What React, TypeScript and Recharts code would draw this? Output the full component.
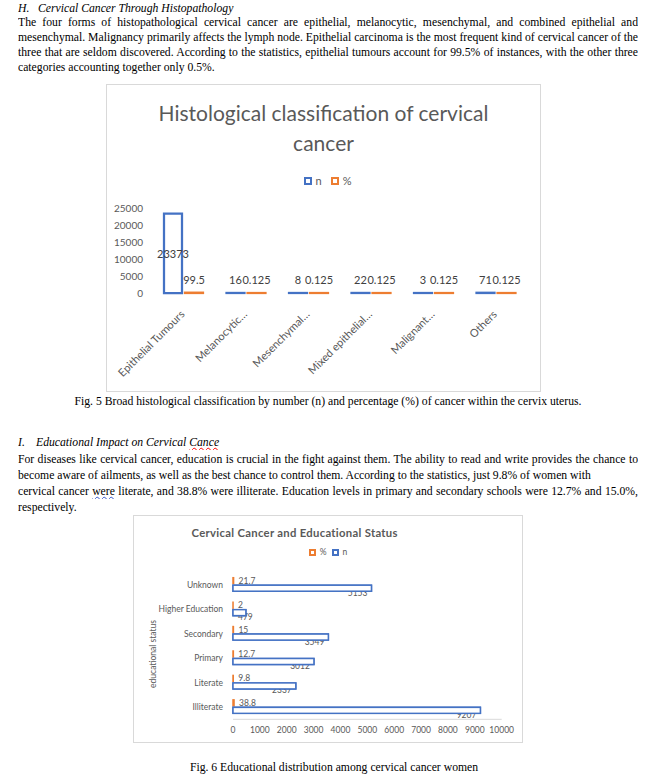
import React from 'react';
import { BarChart, Bar, XAxis, YAxis, LabelList, Legend } from 'recharts';

// ---------- Data ----------
const histCategories = ['Epithelial Tumours', 'Melanocytic…', 'Mesenchymal…', 'Mixed epithelial…', 'Malignant…', 'Others'];
const histN = [23373, 16, 8, 22, 3, 71];
const histPct = [99.5, 0.125, 0.125, 0.125, 0.125, 0.125];
const histTicks = [0, 5000, 10000, 15000, 20000, 25000];

const eduCategories = ['Unknown', 'Higher Education', 'Secondary', 'Primary', 'Literate', 'Illiterate'];
const eduPct = [21.7, 2, 15, 12.7, 9.8, 38.8];
const eduN = [5153, 479, 3549, 3012, 2337, 9207];
const eduTicks = [0, 1000, 2000, 3000, 4000, 5000, 6000, 7000, 8000, 9000, 10000];

const histData = histCategories.map((name, i) => ({ name, n: histN[i], pct: histPct[i] }));
const eduData = eduCategories.map((name, i) => ({ name, pct: eduPct[i], n: eduN[i] }));

const BLUE = '#4472C4';
const ORANGE = '#ED7D31';
const GREY = '#595959';
const SANS = 'Lato, "Open Sans", sans-serif';
const SERIF = '"Liberation Serif", "Times New Roman", serif';
const SERIES_COLOR: Record<string, string> = { n: BLUE, pct: ORANGE };

// ---------- Page text helpers ----------
const lineStyle = (top: number, align: 'justify' | 'left' | 'center'): React.CSSProperties => ({
  position: 'absolute',
  left: 18,
  top: top - 7.5,
  width: 620,
  height: 15,
  lineHeight: '15px',
  fontFamily: SERIF,
  fontSize: 11.7,
  color: '#000',
  whiteSpace: align === 'justify' ? 'normal' : 'nowrap',
  overflow: 'hidden',
  textAlign: align,
  textAlignLast: align,
});

const Line = ({ top, align = 'justify', children }: { top: number; align?: 'justify' | 'left' | 'center'; children: React.ReactNode }) => (
  <div style={lineStyle(top, align)}>{children}</div>
);

// ---------- Chart 1 pieces ----------
const HistTick = (props: any) => {
  const { x, y, payload } = props;
  const px = x + 2;
  const py = y + 14;
  return (
    <text x={px} y={py} textAnchor="end" transform={`rotate(-45, ${px}, ${py})`} fontSize={11} fill={GREY} fontFamily={SANS}>
      {payload.value}
    </text>
  );
};

const HistLabel = (props: any) => {
  const { x, y, width, height, value } = props;
  const cx = x + width / 2;
  if (height > 30) {
    return (
      <text x={cx} y={y + height / 2} textAnchor="middle" dominantBaseline="central" fontSize={11} fill="#404040" fontFamily={SANS}>
        {value}
      </text>
    );
  }
  return (
    <text x={cx} y={y - 9} textAnchor="middle" fontSize={11} fill="#404040" fontFamily={SANS}>
      {value}
    </text>
  );
};

const HollowLegend = ({ payload, order, size, font, gap }: any) => {
  const items = order.map((k: string) => (payload || []).find((p: any) => p.dataKey === k)).filter(Boolean);
  return (
    <div style={{ display: 'flex', justifyContent: 'center', alignItems: 'center', fontFamily: SANS, fontSize: font, color: GREY }}>
      {items.map((p: any, i: number) => (
        <div key={i} style={{ display: 'flex', alignItems: 'center', marginLeft: i === 0 ? 0 : gap }}>
          <span
            style={{
              display: 'inline-block',
              width: size,
              height: size,
              border: `2px solid ${SERIES_COLOR[p.dataKey]}`,
              background: '#fff',
              marginRight: 4,
            }}
          />
          <span>{p.value}</span>
        </div>
      ))}
    </div>
  );
};

// ---------- Chart 2 pieces ----------
const EduYTick = (props: any) => {
  const { x, y, payload } = props;
  return (
    <text x={x} y={y} textAnchor="end" dominantBaseline="central" fontSize={8.5} fill={GREY} fontFamily={SANS}>
      {payload.value}
    </text>
  );
};

const EduNLabel = (props: any) => {
  const { x, y, width, height, value } = props;
  const fs = 8.5;
  const textW = String(value).length * fs * 0.58;
  const endX = Math.max(x + width - 4, x + textW + 5);
  const cy = y + height + 1.5;
  return (
    <g>
      <text x={endX} y={cy} textAnchor="end" dominantBaseline="central" fontSize={fs} fill={GREY} fontFamily={SANS}>
        {value}
      </text>
      <rect x={x} y={y} width={width} height={height} fill="#fff" stroke={BLUE} strokeWidth={1.5} />
    </g>
  );
};

export default function App() {
  return (
    <div style={{ position: 'absolute', left: 0, top: 0, width: 658, height: 777, background: '#fff' }}>
      {/* Section H */}
      <div style={{ ...lineStyle(8, 'left'), fontStyle: 'italic' }}>
        <span style={{ display: 'inline-block', width: 20 }}>H.</span>Cervical Cancer Through Histopathology
      </div>
      <Line top={22}>The four forms of histopathological cervical cancer are epithelial, melanocytic, mesenchymal, and combined epithelial and</Line>
      <Line top={37}>mesenchymal. Malignancy primarily affects the lymph node. Epithelial carcinoma is the most frequent kind of cervical cancer of the</Line>
      <Line top={52}>three that are seldom discovered. According to the statistics, epithelial tumours account for 99.5% of instances, with the other three</Line>
      <Line top={67} align="left">categories accounting together only 0.5%.</Line>

      {/* Chart 1 */}
      <div style={{ position: 'absolute', left: 106, top: 84, width: 435, height: 308, border: '1px solid #d9d9d9', boxSizing: 'border-box', background: '#fff' }}>
        <div style={{ position: 'absolute', left: -1, top: -1, width: 435, height: 308 }}>
          <div
            style={{
              position: 'absolute',
              left: 0,
              top: 14,
              width: 435,
              textAlign: 'center',
              fontFamily: SANS,
              fontSize: 21,
              lineHeight: '30px',
              color: GREY,
            }}
          >
            Histological classification of cervical
            <br />
            cancer
          </div>
          <BarChart width={435} height={308} data={histData} margin={{ top: 124, right: 14, bottom: 69, left: 0 }} barGap={3}>
            <XAxis dataKey="name" axisLine={false} tickLine={false} interval={0} tick={<HistTick />} height={30} />
            <YAxis
              type="number"
              domain={[0, 25000]}
              ticks={histTicks}
              interval={0}
              axisLine={false}
              tickLine={false}
              width={46}
              tickMargin={3}
              tick={{ fontSize: 10, fill: GREY, fontFamily: SANS }}
            />
            <Legend
              verticalAlign="middle"
              align="center"
              layout="horizontal"
              wrapperStyle={{ top: 90, left: 4, width: 435 }}
              content={(p: any) => <HollowLegend payload={p.payload} order={['n', 'pct']} size={4} font={11} gap={9} />}
            />
            <Bar dataKey="n" name="n" fill="#fff" stroke={BLUE} strokeWidth={2.25} barSize={18} isAnimationActive={false}>
              <LabelList dataKey="n" content={<HistLabel />} />
            </Bar>
            <Bar dataKey="pct" name="%" fill="#fff" stroke={ORANGE} strokeWidth={2.25} barSize={18} isAnimationActive={false}>
              <LabelList dataKey="pct" content={<HistLabel />} />
            </Bar>
          </BarChart>
        </div>
      </div>

      <Line top={401} align="center">
        Fig. 5 Broad histological classification by number (n) and percentage (%) of cancer within the cervix uterus.
      </Line>

      {/* Section I */}
      <div style={{ ...lineStyle(442, 'left'), fontStyle: 'italic' }}>
        <span style={{ display: 'inline-block', width: 18 }}>I.</span>Educational Impact on Cervical{' '}
        <span style={{ textDecoration: 'underline wavy red', textDecorationThickness: 1 }}>Cance</span>
      </div>
      <Line top={459}>For diseases like cervical cancer, education is crucial in the fight against them. The ability to read and write provides the chance to</Line>
      <Line top={475} align="left">become aware of ailments, as well as the best chance to control them. According to the statistics, just 9.8% of women with</Line>
      <Line top={491}>
        cervical cancer <span style={{ textDecoration: 'underline wavy #3355cc', textDecorationThickness: 1 }}>were</span> literate, and 38.8% were illiterate. Education levels in primary and secondary schools were 12.7% and 15.0%,
      </Line>
      <Line top={507} align="left">respectively.</Line>

      {/* Chart 2 */}
      <div style={{ position: 'absolute', left: 133, top: 515, width: 390, height: 228, border: '1px solid #d9d9d9', boxSizing: 'border-box', background: '#fff' }}>
        <div style={{ position: 'absolute', left: -1, top: -1, width: 390, height: 228 }}>
          <div
            style={{
              position: 'absolute',
              left: 161.7 - 150,
              top: 10,
              width: 300,
              textAlign: 'center',
              fontFamily: SANS,
              fontWeight: 700,
              fontSize: 11.3,
              letterSpacing: 0.3,
              lineHeight: '16px',
              color: GREY,
            }}
          >
            Cervical Cancer and Educational Status
          </div>
          <div
            style={{
              position: 'absolute',
              left: 20 - 50,
              top: 139 - 6,
              width: 100,
              height: 12,
              lineHeight: '12px',
              textAlign: 'center',
              fontFamily: SANS,
              fontSize: 8.5,
              color: GREY,
              transform: 'rotate(-90deg)',
              transformOrigin: '50% 50%',
            }}
          >
            educational status
          </div>
          <BarChart
            width={390}
            height={228}
            data={eduData}
            layout="vertical"
            margin={{ top: 57.7, right: 21.3, bottom: 3.7, left: 0 }}
            barGap={1.5}
          >
            <XAxis
              type="number"
              domain={[0, 10000]}
              ticks={eduTicks}
              interval={0}
              axisLine={{ stroke: '#d9d9d9' }}
              tickLine={false}
              height={20}
              tick={{ fontSize: 8.5, fill: GREY, fontFamily: SANS }}
            />
            <YAxis
              type="category"
              dataKey="name"
              axisLine={false}
              tickLine={false}
              width={100}
              tickMargin={4}
              interval={0}
              tick={<EduYTick />}
            />
            <Legend
              verticalAlign="middle"
              align="center"
              layout="horizontal"
              wrapperStyle={{ top: 32, left: 0, width: 390 }}
              content={(p: any) => <HollowLegend payload={p.payload} order={['pct', 'n']} size={3} font={8.5} gap={5} />}
            />
            <Bar dataKey="pct" name="%" fill={ORANGE} stroke={ORANGE} strokeWidth={1.5} barSize={6} isAnimationActive={false}>
              <LabelList dataKey="pct" position="right" offset={5} style={{ fontSize: 8.5, fill: GREY, fontFamily: SANS }} />
            </Bar>
            <Bar dataKey="n" name="n" fill="#fff" stroke={BLUE} strokeWidth={1.5} barSize={6} isAnimationActive={false}>
              <LabelList dataKey="n" content={<EduNLabel />} />
            </Bar>
          </BarChart>
        </div>
      </div>

      <Line top={767} align="center">
        <span style={{ position: 'relative', left: 6 }}>Fig. 6 Educational distribution among cervical cancer women</span>
      </Line>
    </div>
  );
}
